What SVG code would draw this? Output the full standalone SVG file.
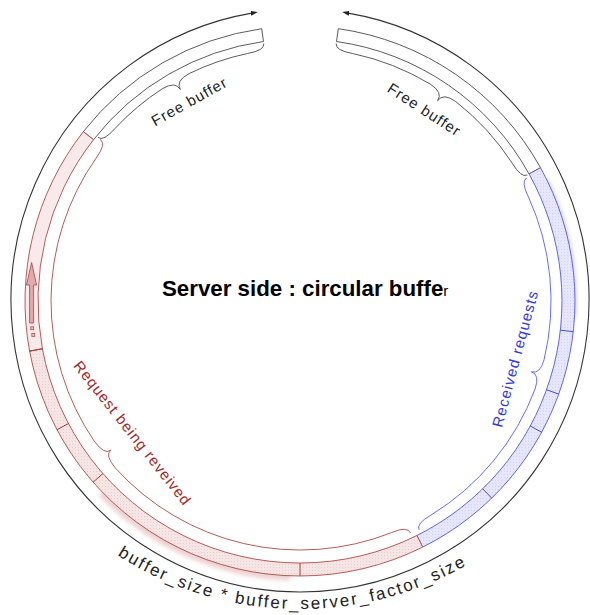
<svg xmlns="http://www.w3.org/2000/svg" width="590" height="615" viewBox="0 0 590 615">
<defs>
<style>
.ring{fill:none;stroke:#333;stroke-width:1.1}
.free{fill:#fff;stroke:#4a4a4a;stroke-width:0.9}
.fbrace{fill:none;stroke:#4a4a4a;stroke-width:0.9}
.blueSeg{fill:url(#bluePat);stroke:#5252f2;stroke-width:0.9}
.bbrace{fill:none;stroke:#5a5aff;stroke-width:0.9}
.redSeg{stroke:#b04848;stroke-width:0.9}
.rbrace{fill:none;stroke:#b04848;stroke-width:0.9}
.bdiv{stroke:#4a4ae8;stroke-width:1}
.rdiv{stroke:#a83c3c;stroke-width:1}
.lbl{font-family:"Liberation Sans",Arial,sans-serif;font-size:15px;text-anchor:middle;letter-spacing:1px}
</style>
<pattern id="bluePat" width="3" height="3" patternUnits="userSpaceOnUse"><rect width="3" height="3" fill="#e6e6fc"/><rect width="1" height="1" fill="#d2d2f5"/></pattern>
<pattern id="redPat" width="3" height="3" patternUnits="userSpaceOnUse"><rect width="3" height="3" fill="#f5e5e5"/><rect width="1" height="1" fill="#e8cfcf"/></pattern>
<marker id="arr" viewBox="0 0 7 5" refX="1" refY="2.5" markerWidth="7" markerHeight="5" markerUnits="userSpaceOnUse" orient="auto-start-reverse"><path d="M0,0 L7,2.5 L0,5 z" fill="#222"/></marker>
<filter id="blur" x="-20%" y="-20%" width="140%" height="140%"><feGaussianBlur stdDeviation="2.2"/></filter>
<path id="bt" d="M 8.1,440.5 A 337 337 0 0 0 591.9,440.5"/>
</defs>

<g id="outer-ring">
<path class="ring" d="M 251.8,13.1 A 289 291.5 0 1 0 348.2,13.1" marker-start="url(#arr)" marker-end="url(#arr)"/>
</g>

<g id="glow">
<path d="M545.4,181.3 A273 273 0 0 1 572.6,315.3" fill="none" stroke="#c8c8f2" stroke-width="7" opacity="0.8" filter="url(#blur)"/>
<path d="M102.2,492.0 A275 275 0 0 0 290.4,575.8" fill="none" stroke="#e8c6c6" stroke-width="10" opacity="0.8" filter="url(#blur)"/>
</g>

<g id="free-left">
<path class="free" d="M 83.3,131.7 A 275 275 0 0 1 261.7,28.7 L 263.5,41.5 A 262 262 0 0 0 93.5,139.7 Z"/>
</g>
<g id="free-right">
<path class="free" d="M 338.3,28.7 A 275 275 0 0 1 540.5,167.7 L 529.1,174.0 A 262 262 0 0 0 336.5,41.5 Z"/>
</g>
<g id="received">
<path class="blueSeg" d="M 540.5,167.7 A 275 275 0 0 1 422.7,547.1 L 416.9,535.5 A 262 262 0 0 0 529.1,174.0 Z"/>
<line class="bdiv" x1="573.3" y1="331.7" x2="560.4" y2="330.2"/>
<line class="bdiv" x1="558.7" y1="394.1" x2="546.5" y2="389.7"/>
<line class="bdiv" x1="541.7" y1="432.2" x2="530.2" y2="426.0"/>
<line class="bdiv" x1="491.7" y1="498.1" x2="482.7" y2="488.8"/>
</g>
<g id="receiving">
<path class="redSeg" fill="url(#redPat)" d="M 422.7,547.1 A 275 275 0 0 1 29.6,351.1 L 42.4,348.7 A 262 262 0 0 0 416.9,535.5 Z"/>
<path class="redSeg" fill="#f8eaea" d="M 29.6,351.1 A 275 275 0 0 1 83.3,131.7 L 93.5,139.7 A 262 262 0 0 0 42.4,348.7 Z"/>
<line class="rdiv" x1="300" y1="576" x2="300" y2="563"/>
<line class="rdiv" x1="93.1" y1="482.1" x2="102.9" y2="473.6"/>
<line class="rdiv" x1="57.0" y1="429.7" x2="68.4" y2="423.6"/>
<line class="rdiv" x1="29.6" y1="351.1" x2="42.4" y2="348.7"/>
<polygon points="29.6,323 29.6,285 26.5,285 31.6,262.5 36.6,285 33.6,285 33.6,323" fill="#e2aaaa" stroke="#a84444" stroke-width="0.8"/>
<rect x="30.8" y="326.8" width="3" height="3" fill="#e8b8b8" stroke="#a84444" stroke-width="0.7"/>
<rect x="31.8" y="333.5" width="3" height="3" fill="#e8b8b8" stroke="#a84444" stroke-width="0.7"/>
</g>

<g id="connectors">
<path class="fbrace" d="M263.8,43.5 Q264.8,50.5 247.4,53.5 A253 253 0 0 0 189.1,73.6 Q175.4,80.8 180.3,89.5 Q175.4,80.8 162.2,88.8 A253 253 0 0 0 115.0,128.5 Q103.4,141.8 98.0,137.4"/>
<path class="fbrace" d="M336.2,43.5 Q335.2,50.5 352.6,53.5 A253 253 0 0 1 430.3,84.1 Q443.3,92.5 437.6,100.7 Q443.3,92.5 455.8,101.6 A253 253 0 0 1 512.2,163.2 Q521.3,178.3 527.4,175.0"/>
<path class="bbrace" d="M526.7,177.9 Q520.6,181.2 528.4,196.9 A251 251 0 0 1 544.1,359.6 Q540.0,374.4 531.4,371.8 Q540.0,374.4 535.1,388.9 A251 251 0 0 1 431.1,515.0 Q415.9,523.6 419.1,529.8"/>
<path class="rbrace" d="M410.6,533.0 Q407.2,525.7 391.3,532.7 A249 249 0 0 1 115.7,468.4 Q104.5,455.2 110.7,450.2 Q104.5,455.2 94.2,441.1 A249 249 0 0 1 96.0,158.2 Q106.5,144.3 100.3,139.3"/>
</g>

<g id="labels">
<text class="lbl" fill="#222" transform="translate(191.9,106) rotate(-29)">Free buffer</text>
<text class="lbl" fill="#222" transform="translate(421.4,114) rotate(33)">Free buffer</text>
<text class="lbl" fill="#3434f4" transform="translate(520.2,360) rotate(-75)">Received requests</text>
<text class="lbl" fill="#a32626" transform="translate(128.5,436.4) rotate(51.7)">Request being reveived</text>
<text font-family="'Liberation Sans',Arial,sans-serif" font-size="22.3" font-weight="bold" fill="#000" x="162" y="296">Server side : circular buffe<tspan font-size="15" font-weight="normal">r</tspan></text>
<text font-family="'Liberation Sans',Arial,sans-serif" font-size="17" fill="#222" letter-spacing="2"><textPath href="#bt" startOffset="48.75%" text-anchor="middle">buffer_size * buffer_server_factor_size</textPath></text>
</g>
</svg>
